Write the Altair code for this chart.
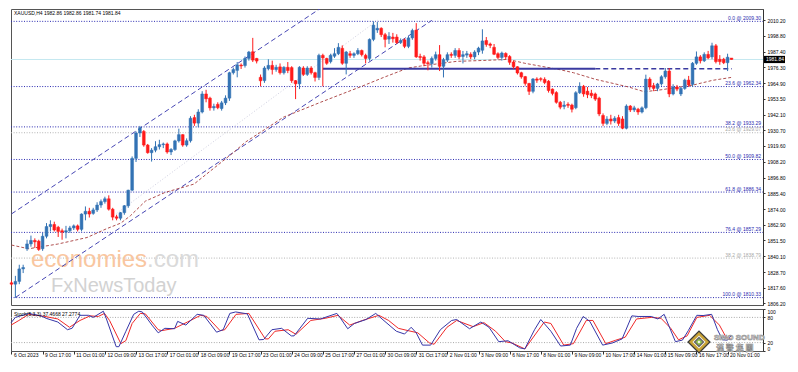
import altair as alt
import pandas as pd

# ---------------- data ----------------
OPEN = [1821, 1820, 1822, 1831, 1845.5, 1849, 1851.5, 1851, 1845.5, 1854.5,
        1861.5, 1863, 1861, 1858.5, 1857.5, 1858.5, 1860.5, 1862, 1859.5, 1870.5,
        1872.5, 1871, 1873.5, 1877, 1879.5, 1881.5, 1874, 1868.5, 1867.5, 1871.5,
        1876.5, 1887.7, 1910.6, 1928.9, 1930, 1920.2, 1914.7, 1916.5, 1919, 1920.5,
        1921, 1915.2, 1917, 1923.2, 1927.7, 1920.2, 1923.3, 1940, 1936, 1944,
        1957, 1954, 1947, 1949.5, 1946.5, 1950.6, 1954, 1972.3, 1974, 1977.8,
        1977.5, 1982.6, 1987.4, 1982.6, 1969, 1966.6, 1975.2, 1977.6, 1974.6, 1976.5,
        1972.3, 1976.2, 1976, 1966.6, 1964.3, 1975.7, 1971.1, 1975.7, 1972.3, 1968.9,
        1984.8, 1982.6, 1980.3, 1984.2, 1986, 1989.9, 1979.1, 1986, 1984.8, 1986,
        1988.3, 1984.8, 1982.6, 1996.3, 2003.1, 2004.3, 1999.7, 1996.5, 1998, 1998,
        1994, 1996, 1991.3, 1997.4, 2003, 1984, 1983.7, 1979.5, 1978.8, 1982.6,
        1985.3, 1976.9, 1981.4, 1985.5, 1984.8, 1988.3, 1984, 1985, 1985.5, 1983.7,
        1987.2, 1988.5, 1995.5, 1993, 1990.6, 1986, 1983.3, 1986.2, 1984, 1980,
        1976.6, 1972.3, 1969.5, 1964.6, 1958.9, 1967.8, 1968, 1967.5, 1966.2, 1960.5,
        1958, 1951, 1948, 1949.5, 1949, 1947.1, 1957.9, 1962.5, 1959, 1957.5,
        1957, 1954, 1941.5, 1935.8, 1939, 1937.5, 1940, 1939, 1932.3, 1948.3,
        1945.5, 1946, 1944, 1947.1, 1967.7, 1963, 1961, 1964.3, 1969.4, 1973.5,
        1957, 1962, 1957, 1961, 1967, 1963.9, 1979.1, 1983.7, 1980.9, 1985.5,
        1983.7, 1991.7, 1982, 1982, 1979.5, 1982.86]
HIGH = [1822.5, 1826, 1834, 1834, 1852, 1855, 1853, 1852, 1857, 1864,
        1866, 1865, 1862, 1860, 1862, 1862, 1863, 1863, 1871, 1876,
        1875, 1875, 1879, 1881, 1883, 1884, 1875, 1870, 1872, 1877,
        1888, 1912, 1930, 1934, 1931, 1921, 1918, 1923, 1924, 1922,
        1922, 1918, 1924, 1932, 1928, 1925, 1941, 1942, 1946, 1959,
        1960, 1955, 1950, 1951, 1952, 1956, 1973, 1976, 1980, 1979,
        1984, 1988, 1997.4, 1983, 1971, 1977, 1982, 1981, 1978, 1979,
        1977, 1980, 1977, 1967, 1977, 1977, 1977, 1977, 1973, 1986,
        1986, 1983, 1986, 1990, 1993.6, 1992, 1988, 1988, 1987, 1990,
        1989, 1986, 1997, 2009.3, 2008.8, 2005, 2001, 2001.5, 2001, 2000,
        1997, 1997, 1999, 2004, 2008, 1986, 1985, 1981, 1984, 1987.5,
        1992.2, 1983, 1987, 1987, 1990, 1990, 1988, 1988, 1987, 1988.5,
        1991, 2003.6, 1998, 1994, 1993, 1987, 1987.5, 1987, 1985, 1981,
        1977, 1973, 1970, 1965, 1968.5, 1969, 1969, 1969, 1967, 1961,
        1959, 1952, 1952, 1951, 1950, 1959, 1965.4, 1963.5, 1962, 1960,
        1958, 1955, 1943, 1941, 1942, 1941, 1942, 1941, 1949.5, 1949,
        1948.5, 1947, 1948, 1970.9, 1969, 1965, 1965, 1970.5, 1975.7, 1975.7,
        1964, 1963.5, 1962, 1968, 1970, 1980, 1987.6, 1985, 1987, 1988,
        1993.9, 1993, 1985, 1983, 1986, 1982.86]
LOW = [1819, 1810.3, 1820, 1828, 1844, 1847, 1846, 1844, 1844, 1853,
       1858, 1858, 1854, 1852, 1853, 1857, 1859, 1858, 1858, 1866,
       1868, 1870, 1872, 1875, 1878, 1873, 1866, 1866, 1866, 1870,
       1875, 1887, 1908, 1926, 1919, 1914, 1908.3, 1915, 1917, 1918,
       1914, 1913, 1916, 1922, 1919, 1919, 1922, 1934, 1933, 1943,
       1951, 1945, 1945, 1946, 1945, 1949, 1952, 1971, 1969, 1975,
       1976, 1981, 1980, 1979, 1962.5, 1965, 1974, 1971, 1973, 1971,
       1971, 1972, 1965, 1953.3, 1960.5, 1970, 1970, 1971, 1966, 1967,
       1962.5, 1978, 1979, 1983, 1985, 1978, 1971.1, 1983, 1983, 1985,
       1984, 1979, 1981, 1995, 2001, 1998, 1990.6, 1993, 1994, 1993,
       1993, 1990, 1990, 1996, 1983, 1981, 1977, 1974, 1976, 1981,
       1973.5, 1968.9, 1980, 1983, 1983, 1982, 1979, 1983, 1982, 1982,
       1985, 1986, 1991, 1990, 1985, 1982, 1981, 1982, 1978, 1975,
       1971, 1968, 1963, 1956.3, 1957.5, 1965, 1966, 1964, 1958, 1956,
       1950, 1946, 1946, 1947, 1943.7, 1946, 1957, 1955, 1954, 1954,
       1952, 1941, 1934, 1934.5, 1935, 1936, 1934, 1931.6, 1931.5, 1944,
       1944, 1942, 1943, 1946, 1960, 1959, 1959, 1963, 1968, 1954.7,
       1956, 1959, 1955.5, 1960, 1962, 1962, 1978, 1979, 1980, 1982,
       1982, 1979, 1978, 1978.5, 1973.5, 1981.74]
CLOSE = [1820, 1822, 1831, 1832, 1849, 1851.5, 1850.5, 1845, 1854.5, 1861.5,
         1863, 1859, 1858, 1857.5, 1858.5, 1860.5, 1862, 1859.5, 1870.5, 1872.5,
         1870.5, 1873.5, 1877, 1879.5, 1881.5, 1874, 1868.3, 1867.5, 1871.5, 1876.5,
         1887.7, 1910.6, 1928.9, 1932.7, 1920.2, 1914.7, 1916.5, 1919, 1920.5, 1921,
         1915.2, 1917, 1923.2, 1927.7, 1920.2, 1923.3, 1939.5, 1936, 1944, 1957,
         1953.5, 1947, 1948, 1947.1, 1950.6, 1954, 1972.3, 1974.6, 1978, 1977.2,
         1982.6, 1987.2, 1981.4, 1980.7, 1966.5, 1975.7, 1977.6, 1974.6, 1976.2, 1972.3,
         1976.2, 1973.9, 1966.6, 1964.3, 1976.2, 1971.1, 1975.7, 1972.3, 1968.9, 1984.8,
         1983, 1979.1, 1984.8, 1986, 1990.6, 1979.1, 1987.2, 1984.8, 1986, 1988.3,
         1985.3, 1982.6, 1996.3, 2006.6, 2004.3, 1999.7, 1996.3, 1998.5, 1996.8, 1994,
         1995.5, 1991.3, 1997.4, 2002.7, 1983.7, 1983.3, 1979.1, 1978.8, 1982.6, 1985.3,
         1976.9, 1981.7, 1985.3, 1984.8, 1988.3, 1983.7, 1985.3, 1986, 1983.7, 1987.2,
         1990, 1995.2, 1992.6, 1992, 1985.6, 1983.3, 1986.5, 1983.7, 1979.8, 1976.6,
         1972.1, 1969.3, 1964.6, 1958.9, 1967.8, 1966.9, 1967.5, 1965.2, 1959.5, 1957.4,
         1951, 1947.5, 1949, 1948.8, 1946, 1957.9, 1962.5, 1957, 1956.5, 1955.8,
         1953.3, 1942.6, 1935.8, 1938.9, 1937.5, 1939.5, 1935.8, 1932.3, 1948.3, 1945.5,
         1947, 1944, 1947, 1967.7, 1962, 1961, 1964.2, 1969.4, 1973.5, 1957,
         1962, 1960.5, 1961, 1967, 1963.5, 1979.1, 1983.7, 1980.9, 1985.5, 1983,
         1991.7, 1980.3, 1980.3, 1979.5, 1983.5, 1981.84]

X_LABELS = ["6 Oct 2023", "9 Oct 17:00", "11 Oct 01:00", "12 Oct 09:00", "13 Oct 17:00",
            "17 Oct 01:00", "18 Oct 09:00", "19 Oct 17:00", "23 Oct 01:00", "24 Oct 09:00",
            "25 Oct 17:00", "27 Oct 01:00", "30 Oct 09:00", "31 Oct 17:00", "2 Nov 01:00",
            "3 Nov 09:00", "6 Nov 17:00", "8 Nov 01:00", "9 Nov 09:00", "10 Nov 17:00",
            "14 Nov 01:00", "15 Nov 09:00", "16 Nov 17:00", "20 Nov 01:00"]
X_TICKS = [0, 8, 16, 24, 32, 40, 48, 56, 64, 72, 80, 88, 96, 104, 112, 120,
           128, 136, 144, 152, 160, 168, 176, 184]
PRICE_TICKS = [2010.2, 1998.8, 1987.4, 1976.3, 1964.9, 1953.5, 1942.1, 1930.7, 1919.6,
               1908.2, 1896.8, 1885.4, 1874.0, 1862.9, 1851.5, 1840.1, 1828.7, 1817.6, 1806.2]

FIB_LABELS = ["0.0 @ 2009.30", "23.6 @ 1962.34", "38.2 @ 1933.29", "50.0 @ 1909.82",
              "61.8 @ 1886.34", "76.4 @ 1857.29", "100.0 @ 1810.33"]
FIB_PRICES = [2009.30, 1962.34, 1933.29, 1909.82, 1886.34, 1857.29, 1810.33]
GFIB_LABELS = ["23.6 @ 1929.07", "38.2 @ 1838.79"]
GFIB_PRICES = [1929.07, 1838.79]

CUR_PRICE = 1981.84
CUR_LABEL = "1981.84"
TITLE = "XAUUSD,H4  1982.86 1982.86 1981.74 1981.84"
STO_TITLE = "Stoch(5,3,3) 37.4668 27.2774"

# channel and trend lines: (line id, bar index, price)
CH_ID = ["low", "low", "up", "up", "faint", "faint"]
CH_I = [1, 108, 0, 80, 27, 94]
CH_P = [1810.4, 2010.0, 1870.6, 2019.8, 1871.0, 2010.0]

LEVEL_PRICE = 1975.2
LEVEL_SOLID_I = [80, 150]
LEVEL_DASH_I = [150, 185.1]

MA_I = [0, 4.4, 11.9, 19.4, 24.4, 28.1, 30.6, 34.4, 39.4, 46.9, 56.9, 60.1, 69.9, 79.4,
        89.9, 95.6, 101.9, 105.1, 114.4, 121.9, 127.6, 131.9, 141.1, 144.4, 150.1,
        158.6, 162.6, 166.9, 175.1, 180.1, 184.9]
MA_P = [1848.2, 1845.5, 1848.9, 1853.6, 1859.9, 1864.0, 1869.4, 1879.8, 1886.0, 1892.1,
        1914.5, 1922.3, 1940.3, 1951.0, 1962.4, 1968.9, 1975.7, 1977.1, 1980.5, 1981.2,
        1981.9, 1979.1, 1974.4, 1972.3, 1967.5, 1962.0, 1958.6, 1960.0, 1963.4, 1966.8,
        1968.9]

K_I = [-0.1, 1, 4.4, 7.6, 8.9, 11.9, 14.4, 15.6, 17.6, 19.8, 21, 23.6, 24.4, 26.9, 27.6,
       29.4, 31.4, 32.7, 33.6, 36.1, 37.7, 39.4, 41.9, 42.7, 44.8, 47.7, 49.4, 52.7, 54.4,
       56.1, 57.6, 60.6, 63.6, 64.8, 66.9, 69.4, 71.9, 72.6, 76.1, 79.4, 83.6, 84.4, 86.4,
       88.1, 91.1, 93.6, 95.2, 98.9, 101, 102.7, 104, 105.6, 107.7, 110.2, 113.1, 114.4,
       117.7, 120.6, 122.7, 125.2, 127.6, 130.6, 131.9, 134.4, 136, 138.6, 141.1, 143.6,
       145.2, 146.9, 148.6, 151.9, 154.4, 156.9, 159.4, 161, 164.4, 166.1, 167.7, 170.6,
       172.4, 173.9, 176.1, 177.7, 179.9, 181.4, 182.7, 184, 185]
K_V = [67.5, 80, 89.5, 83.7, 77.8, 69, 50.7, 54.3, 85, 85, 80, 94.7, 76.3, 10.3, 10.3,
       47, 87.3, 94.7, 93, 61.7, 43.3, 54, 53, 70.5, 61.7, 87.3, 85, 44.8, 50.7,
       89.5, 93, 88.4, 26.6, 27.4, 50.7, 54, 36, 36, 77.8, 76.3, 89.5, 80, 53,
       65.5, 75, 89.5, 76.3, 47, 40.4, 56.5, 43.3, 14, 14, 50.7, 72.7, 75,
       53, 69, 56.5, 22.2, 24.4, 7.5, 5, 50.7, 75, 47, 11.8, 14,
       54, 82.2, 70.5, 14, 19.1, 28.8, 83.7, 82.2, 82.2, 76.3, 87.3, 22.2,
       26, 48.5, 85, 84.4, 87.3, 50.7, 26.6, 26, 37.47]
D_I = [-0.1, 1.9, 4.4, 8.6, 11.9, 14.9, 17.6, 20.2, 22.3, 23.9, 25.2, 28.1, 29.4, 31, 33.1,
       34.4, 37.7, 38.6, 41.9, 45.2, 48.6, 50.2, 53.6, 54.8, 57.7, 61, 65.2, 66, 67.7,
       71.1, 73.1, 76.9, 80.6, 83.9, 86.9, 90.2, 94.4, 96.9, 99.4, 101.9, 104.4, 107.4,
       108.6, 111.9, 114.4, 118.6, 121.4, 124.4, 126.9, 128.6, 131.9, 136.9, 138.6, 141.9,
       144.4, 147.7, 149.4, 152.7, 155.2, 157.7, 160.6, 164.4, 166.9, 169.4, 171.4, 173.6,
       176.1, 179.4, 181.9, 183.6, 185]
D_V = [61.7, 72.7, 87.3, 82.2, 76.3, 56.5, 72.7, 83.7, 82.2, 89.5, 72.7, 17.5, 24.8, 65.5, 89.5,
       88.4, 50.7, 48.5, 54, 69, 85, 82.2, 48.5, 50.7, 87.3, 89.5, 28.8, 28.8, 47,
       50.7, 39.7, 72.7, 77.8, 85, 61.7, 72.7, 85, 72.7, 54, 48.5, 43.3, 19.1,
       16.1, 56.5, 72.7, 58, 67.5, 47, 22.2, 19.1, 5, 69, 65.5, 14,
       17.5, 72.7, 72.7, 17.5, 25.5, 32.9, 76.3, 80, 77.8, 54, 26.6, 36,
       80, 85, 61.7, 32.9, 27.28]
STO_LEVELS = [80, 20]
STO_TICKS = [100, 80, 20, 0]

# ---------------- styling ----------------
W, HM, HS = 752, 296, 42
FONT = "Liberation Sans"
FS = 5
BULL, BEAR = "#3373b4", "#ff1a1a"
FIB_C = "#2a2ab0"
XS = alt.Scale(domain=[-0.125, 193.1], nice=False, zero=False)
YS = alt.Scale(domain=[1805.0, 2018.2], nice=False, zero=False)
SS = alt.Scale(domain=[0, 100], nice=False, zero=False)
DIRS = alt.Scale(domain=["up", "down"], range=[BULL, BEAR])

one = pd.DataFrame({"k": [0]})

df = pd.DataFrame({"i": list(range(len(OPEN))), "o": OPEN, "h": HIGH, "l": LOW, "c": CLOSE})
df["dir"] = ["up" if c >= o else "down" for o, c in zip(OPEN, CLOSE)]

fib = pd.DataFrame({"p": FIB_PRICES, "lab": FIB_LABELS})
gfib = pd.DataFrame({"p": GFIB_PRICES, "lab": GFIB_LABELS})
ch = pd.DataFrame({"id": CH_ID, "i": CH_I, "p": CH_P})
ma = pd.DataFrame({"i": MA_I, "p": MA_P})
lv_solid = pd.DataFrame({"i": LEVEL_SOLID_I, "p": [LEVEL_PRICE] * 2})
lv_dash = pd.DataFrame({"i": LEVEL_DASH_I, "p": [LEVEL_PRICE] * 2})
cur = pd.DataFrame({"p": [CUR_PRICE], "lab": [CUR_LABEL]})

YAX = alt.Axis(orient="right", values=PRICE_TICKS, format=".2f", labelFontSize=FS,
               tickSize=2, labelPadding=2, grid=False, title=None, labelOverlap=False,
               labelColor="#000000", tickColor="#333333", domainColor="#333333")

def yq(field):
    return alt.Y(field, scale=YS, axis=YAX)

def xq(field):
    return alt.X(field, scale=XS, axis=None)

price_line = alt.Chart(cur).mark_rule(color="#c4e8f0", strokeWidth=1).encode(
    y=yq("p:Q"), x=alt.value(0), x2=alt.value(W))

fib_lines = alt.Chart(fib).mark_rule(color=FIB_C, strokeDash=[1, 1.6], strokeWidth=1).encode(
    y=yq("p:Q"), x=alt.value(0), x2=alt.value(W))
gfib_lines = alt.Chart(gfib).mark_rule(color="#b4b4b4", strokeDash=[1, 1.6], strokeWidth=1).encode(
    y=yq("p:Q"), x=alt.value(0), x2=alt.value(W))
fib_text = alt.Chart(fib).mark_text(align="right", baseline="bottom", dy=-0.5, fontSize=FS,
                                    font=FONT, color=FIB_C).encode(
    y=yq("p:Q"), x=alt.value(W - 2), text="lab:N")
gfib_text = alt.Chart(gfib).mark_text(align="right", baseline="bottom", dy=-0.5, fontSize=FS,
                                      font=FONT, color="#a8a8a8").encode(
    y=yq("p:Q"), x=alt.value(W - 2), text="lab:N")

wm1 = alt.Chart(one).mark_text(align="left", baseline="alphabetic", fontSize=24, font=FONT,
                               color="#f9c6a0", text="economies").encode(
    x=alt.value(20), y=alt.value(258))
wm2 = alt.Chart(one).mark_text(align="left", baseline="alphabetic", fontSize=24, font=FONT,
                               color="#dadada", text=".com").encode(
    x=alt.value(136), y=alt.value(258))
wm3 = alt.Chart(one).mark_text(align="left", baseline="alphabetic", fontSize=20, font=FONT,
                               color="#d2d2d2", text="FxNewsToday").encode(
    x=alt.value(40), y=alt.value(283))

channel = alt.Chart(ch).transform_filter("datum.id != 'faint'").mark_line(
    color="#4646b4", strokeDash=[5, 3], strokeWidth=1, clip=True).encode(
    x=xq("i:Q"), y=yq("p:Q"), detail="id:N")
faint = alt.Chart(ch).transform_filter("datum.id == 'faint'").mark_line(
    color="#cfcfe0", strokeDash=[1, 2], strokeWidth=1, clip=True).encode(
    x=xq("i:Q"), y=yq("p:Q"))
ma_line = alt.Chart(ma).mark_line(color="#b05050", strokeDash=[3, 2], strokeWidth=1).encode(
    x=xq("i:Q"), y=yq("p:Q"))
lvl_solid = alt.Chart(lv_solid).mark_line(color="#3a3aa0", strokeWidth=2).encode(
    x=xq("i:Q"), y=yq("p:Q"))
lvl_dash = alt.Chart(lv_dash).mark_line(color="#3a3aa0", strokeWidth=1.5, strokeDash=[5, 3]).encode(
    x=xq("i:Q"), y=yq("p:Q"))

col = alt.Color("dir:N", scale=DIRS, legend=None)
wick = alt.Chart(df).mark_rule(strokeWidth=1).encode(
    x=xq("i:Q"), y=yq("l:Q"), y2="h:Q", color=col)
body = alt.Chart(df).transform_calculate(
    x1="datum.i - 0.36", x2="datum.i + 0.36").mark_rect(strokeWidth=0.5).encode(
    x=xq("x1:Q"), x2="x2:Q", y=yq("o:Q"), y2="c:Q", color=col,
    stroke=alt.Stroke("dir:N", scale=DIRS, legend=None))

title = alt.Chart(one).mark_text(align="left", baseline="top", fontSize=FS, font=FONT,
                                 color="#000", text=TITLE).encode(
    x=alt.value(3), y=alt.value(2))

box = alt.Chart(cur).transform_calculate(
    p1="datum.p + 2.6", p2="datum.p - 2.6").mark_rect(color="#000").encode(
    x=alt.value(W + 1), x2=alt.value(W + 22), y=yq("p1:Q"), y2="p2:Q")
box_text = alt.Chart(cur).mark_text(align="left", baseline="middle", fontSize=FS, font=FONT,
                                    color="#fff").encode(
    x=alt.value(W + 3), y=yq("p:Q"), text="lab:N")

main = alt.layer(price_line, gfib_lines, fib_lines, wm1, wm2, wm3, faint, channel, ma_line,
                 lvl_solid, lvl_dash, wick, body, fib_text, gfib_text, title, box, box_text
                 ).properties(width=W, height=HM)

# ---------------- stochastic panel ----------------
kdf = pd.DataFrame({"i": K_I, "v": K_V})
ddf = pd.DataFrame({"i": D_I, "v": D_V})
lev = pd.DataFrame({"v": STO_LEVELS})

expr = "[" + ",".join("'%s'" % s for s in X_LABELS) + "][round(datum.value / 8)]"
SXAX = alt.Axis(values=X_TICKS, labelExpr=expr, labelAlign="left", labelBaseline="top",
                labelFontSize=FS, tickSize=3, domain=False, grid=False, title=None,
                labelPadding=-2, labelOffset=2, labelFlush=False, labelOverlap=False,
                labelColor="#000000", tickColor="#333333")
SYAX = alt.Axis(orient="right", values=STO_TICKS, labelFontSize=FS, tickSize=2,
                labelPadding=2, grid=False, title=None, labelFlush=True, labelOverlap=False,
                labelColor="#000000", tickColor="#333333", domainColor="#333333")

def sx(field):
    return alt.X(field, scale=XS, axis=SXAX)

def sy(field):
    return alt.Y(field, scale=SS, axis=SYAX)

lev_rules = alt.Chart(lev).mark_rule(color="#a8a8a8", strokeDash=[1, 1.6]).encode(
    y=sy("v:Q"), x=alt.value(0), x2=alt.value(W))
k_line = alt.Chart(kdf).mark_line(color="#3636a8", strokeWidth=1).encode(
    x=sx("i:Q"), y=sy("v:Q"))
d_line = alt.Chart(ddf).mark_line(color="#f02828", strokeWidth=1).encode(
    x=sx("i:Q"), y=sy("v:Q"))
s_title = alt.Chart(one).mark_text(align="left", baseline="middle", fontSize=FS, font=FONT,
                                   color="#000", text=STO_TITLE).encode(
    x=alt.value(3), y=alt.value(5))

LX, LY = 688, 33
logo = []
for size, colr in [(560, "#3a3a3a"), (400, "#c9a336"), (170, "#ffffff"), (120, "#6a6a6a"),
                   (45, "#8cc04a"), (8, "#ffffff")]:
    logo.append(alt.Chart(one).mark_point(shape="diamond", filled=True, size=size, color=colr,
                                          opacity=1).encode(x=alt.value(LX), y=alt.value(LY)))
sino = alt.Chart(one).mark_text(align="left", baseline="alphabetic", fontSize=8, font=FONT,
                                fontWeight="bold", color="#f2f2f2", stroke="#8a8a8a",
                                strokeWidth=0.6, text="SINO SOUND").encode(
    x=alt.value(703), y=alt.value(31))
sino_cn = alt.Chart(one).mark_text(align="left", baseline="alphabetic", fontSize=8,
                                   font="Noto Sans CJK TC", fontWeight="bold", color="#f2f2f2",
                                   stroke="#8a8a8a", strokeWidth=0.5,
                                   text="漢  聲  集  團").encode(
    x=alt.value(705), y=alt.value(42))

stoch = alt.layer(lev_rules, d_line, k_line, s_title, *logo, sino, sino_cn).properties(
    width=W, height=HS)

chart = alt.vconcat(main, stoch, spacing=1).properties(
    padding=0, background="#ffffff"
).configure_view(stroke="#555555", strokeWidth=1)

chart.save("out.html", embed_options={"renderer": "svg", "actions": False})
